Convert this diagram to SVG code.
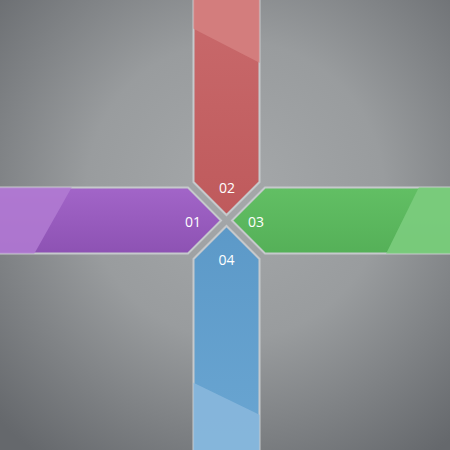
<svg xmlns="http://www.w3.org/2000/svg" width="450" height="450" viewBox="0 0 450 450">
  <defs>
    <radialGradient id="bg" cx="235" cy="190" r="330" gradientUnits="userSpaceOnUse">
      <stop offset="0" stop-color="#a5a8aa"/>
      <stop offset="0.45" stop-color="#999c9e"/>
      <stop offset="1" stop-color="#65686c"/>
    </radialGradient>
    <linearGradient id="gRed" x1="0" y1="0" x2="0" y2="1">
      <stop offset="0" stop-color="#c96a6c"/>
      <stop offset="1" stop-color="#bf5a5c"/>
    </linearGradient>
    <linearGradient id="gPurple" x1="0" y1="0" x2="0" y2="1">
      <stop offset="0" stop-color="#a265c8"/>
      <stop offset="1" stop-color="#8d52b3"/>
    </linearGradient>
    <linearGradient id="gGreen" x1="0" y1="0" x2="0" y2="1">
      <stop offset="0" stop-color="#62bf64"/>
      <stop offset="1" stop-color="#55b058"/>
    </linearGradient>
    <linearGradient id="gBlue" x1="0" y1="0" x2="0" y2="1">
      <stop offset="0" stop-color="#5c99c8"/>
      <stop offset="1" stop-color="#6aa6d2"/>
    </linearGradient>
    <linearGradient id="shineH" x1="0" y1="0" x2="1" y2="0">
      <stop offset="0" stop-color="#fff" stop-opacity="0"/>
      <stop offset="0.5" stop-color="#fff" stop-opacity="0.9"/>
      <stop offset="1" stop-color="#fff" stop-opacity="0"/>
    </linearGradient>
    <linearGradient id="shineV" x1="0" y1="0" x2="0" y2="1">
      <stop offset="0" stop-color="#fff" stop-opacity="0"/>
      <stop offset="0.5" stop-color="#fff" stop-opacity="0.9"/>
      <stop offset="1" stop-color="#fff" stop-opacity="0"/>
    </linearGradient>
    <clipPath id="cRed"><polygon points="193.5,-2 259.5,-2 259.5,182 226.5,215 193.5,182"/></clipPath>
    <clipPath id="cPurple"><polygon points="-2,187.5 188,187.5 221,220.5 188,253.5 -2,253.5"/></clipPath>
    <clipPath id="cGreen"><polygon points="452,187.5 265,187.5 232,220.5 265,253.5 452,253.5"/></clipPath>
    <clipPath id="cBlue"><polygon points="193.5,452 259.5,452 259.5,259 226.5,226 193.5,259"/></clipPath>
  </defs>
  <style>
    .arm { stroke: #c6c9cc; stroke-width: 2; stroke-linejoin: miter; }
    .label { font-family: "Open Sans", "Liberation Sans", sans-serif; font-size: 14px; fill: #ffffff; text-anchor: middle; }
  </style>

  <rect width="450" height="450" fill="url(#bg)"/>

  <g id="node-02">
    <polygon class="arm" points="193.5,-2 259.5,-2 259.5,182 226.5,215 193.5,182" fill="url(#gRed)"/>
    <polygon clip-path="url(#cRed)" points="190,-2 262,-2 262,64 190,27" fill="#d4807f" opacity="0.9"/>
    <line x1="260" y1="75" x2="260" y2="125" stroke="url(#shineV)" stroke-width="1.5"/>
    <text class="label" x="227" y="193">02</text>
  </g>

  <g id="node-01">
    <polygon class="arm" points="-2,187.5 188,187.5 221,220.5 188,253.5 -2,253.5" fill="url(#gPurple)"/>
    <polygon clip-path="url(#cPurple)" points="-2,185 73,185 33,256 -2,256" fill="#b27bd2" opacity="0.85"/>
    <line x1="30" y1="188.5" x2="110" y2="188.5" stroke="url(#shineH)" stroke-width="1.5"/>
    <line x1="140" y1="188.5" x2="190" y2="188.5" stroke="url(#shineH)" stroke-width="1.5"/>
    <text class="label" x="193" y="227">01</text>
  </g>

  <g id="node-03">
    <polygon class="arm" points="452,187.5 265,187.5 232,220.5 265,253.5 452,253.5" fill="url(#gGreen)"/>
    <polygon clip-path="url(#cGreen)" points="452,185 420,185 385,256 452,256" fill="#7acb7c" opacity="0.95"/>
    <line x1="320" y1="253" x2="420" y2="253" stroke="url(#shineH)" stroke-width="1.2" opacity="0.7"/>
    <text class="label" x="256" y="227">03</text>
  </g>

  <g id="node-04">
    <polygon class="arm" points="193.5,452 259.5,452 259.5,259 226.5,226 193.5,259" fill="url(#gBlue)"/>
    <polygon clip-path="url(#cBlue)" points="190,452 262,452 262,416 190,381" fill="#87b6db" opacity="0.95"/>
    <line x1="193.5" y1="300" x2="193.5" y2="345" stroke="url(#shineV)" stroke-width="1.5"/>
    <text class="label" x="226.5" y="265">04</text>
  </g>

  <g id="connectors"/>
</svg>
